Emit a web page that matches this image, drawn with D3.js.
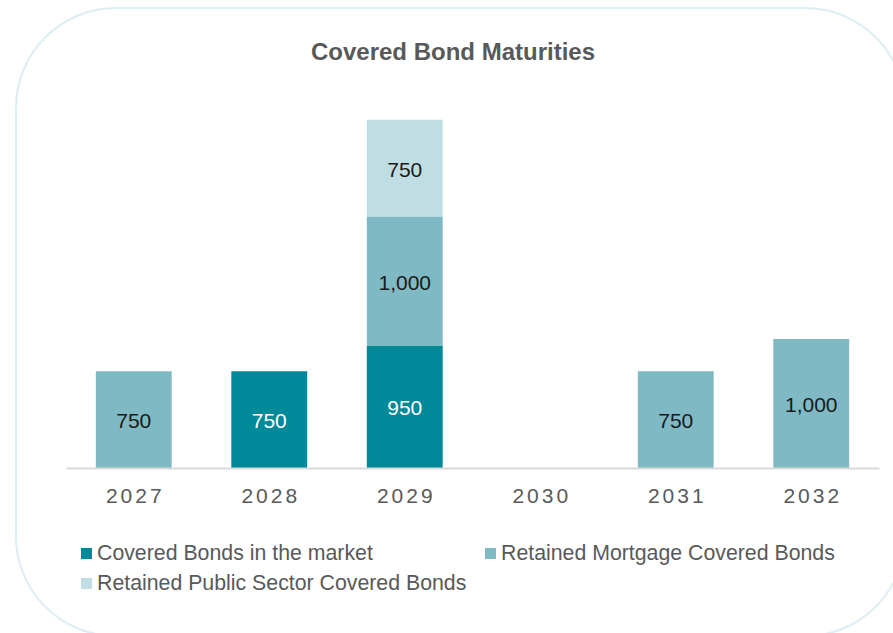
<!DOCTYPE html>
<html>
<head>
<meta charset="utf-8">
<script src="https://cdn.jsdelivr.net/npm/d3@7"></script>
<style>
  body { margin: 0; background: #fff; }
  text { font-family: "Liberation Sans", Arial, sans-serif; }
</style>
</head>
<body>
<script>
var svgWidth = 893;
var svgHeight = 633;

// chart data
var years = ["2027", "2028", "2029", "2030", "2031", "2032"];
var seriesNames = ["Covered Bonds in the market", "Retained Mortgage Covered Bonds", "Retained Public Sector Covered Bonds"];
var marketBonds = [0, 750, 950, 0, 0, 0];
var mortgageBonds = [750, 0, 1000, 0, 750, 1000];
var publicSectorBonds = [0, 0, 750, 0, 0, 0];
var colors = ["#008998", "#7fb9c3", "#bfdde2"];
var labelColors = ["#ffffff", "#1a1a1a", "#1a1a1a"];

var svg = d3.select("body")
            .append("svg")
            .attr("width", svgWidth)
            .attr("height", svgHeight);

// rounded frame
svg.append("rect")
   .attr("x", 16)
   .attr("y", 8)
   .attr("width", 889)
   .attr("height", 628)
   .attr("rx", 100)
   .attr("ry", 100)
   .attr("fill", "none")
   .attr("stroke", "#dcedf4")
   .attr("stroke-width", 2);

svg.append("text")
   .attr("x", 453)
   .attr("y", 60)
   .attr("text-anchor", "middle")
   .attr("font-size", "24px")
   .attr("font-weight", "bold")
   .attr("fill", "#595959")
   .text("Covered Bond Maturities");

// build stacked table
var table = years.map(function(y, i) {
  return { year: y, s0: marketBonds[i], s1: mortgageBonds[i], s2: publicSectorBonds[i] };
});
var stack = d3.stack().keys(["s0", "s1", "s2"]);
var layers = stack(table);

var xScale = d3.scaleBand()
               .domain(years)
               .range([66, 879])
               .paddingInner(0.44)
               .paddingOuter(0.22);

var baseY = 468;
var yScale = d3.scaleLinear()
               .domain([0, 3000])
               .range([baseY, baseY - 387]);

var layerGroups = svg.selectAll("g.layer")
                     .data(layers)
                     .enter()
                     .append("g")
                     .attr("class", "layer")
                     .attr("fill", (d, i) => colors[i]);

layerGroups.selectAll("rect")
           .data(d => d.filter(p => p[1] - p[0] > 0))
           .enter()
           .append("rect")
           .attr("x", d => xScale(d.data.year))
           .attr("y", d => yScale(d[1]))
           .attr("width", xScale.bandwidth())
           .attr("height", d => yScale(d[0]) - yScale(d[1]));

var fmt = d3.format(",");
layerGroups.each(function(layer, li) {
  d3.select(this).selectAll("text")
    .data(layer.filter(p => p[1] - p[0] > 0))
    .enter()
    .append("text")
    .attr("x", d => xScale(d.data.year) + xScale.bandwidth() / 2)
    .attr("y", d => (yScale(d[0]) + yScale(d[1])) / 2 + 1)
    .attr("dy", "0.36em")
    .attr("text-anchor", "middle")
    .attr("font-size", "21px")
    .attr("fill", labelColors[li])
    .text(d => fmt(d[1] - d[0]));
});

// baseline axis
var xAxis = svg.append("g")
               .attr("transform", `translate(0, ${baseY})`)
               .call(d3.axisBottom(xScale).tickSize(0).tickPadding(0));
xAxis.select(".domain")
     .attr("stroke", "#d9d9d9")
     .attr("stroke-width", 2);
xAxis.selectAll(".tick text")
     .attr("y", 34.5)
     .attr("dy", 0)
     .attr("dx", "1.5px")
     .attr("font-family", "Liberation Sans, Arial, sans-serif")
     .attr("font-size", "21px")
     .attr("letter-spacing", "3px")
     .attr("fill", "#595959");

// legend
var legendPos = [[81, 560], [485, 560], [81, 590]];
var legend = svg.selectAll("g.legend")
                .data(seriesNames)
                .enter()
                .append("g")
                .attr("class", "legend")
                .attr("transform", (d, i) => `translate(${legendPos[i][0]}, ${legendPos[i][1]})`);
legend.append("rect")
      .attr("x", 0)
      .attr("y", -12)
      .attr("width", 11)
      .attr("height", 11)
      .attr("fill", (d, i) => colors[i]);
legend.append("text")
      .attr("x", 16)
      .attr("y", 0)
      .attr("font-size", "21.3px")
      .attr("fill", "#595959")
      .text(d => d);
</script>
</body>
</html>
